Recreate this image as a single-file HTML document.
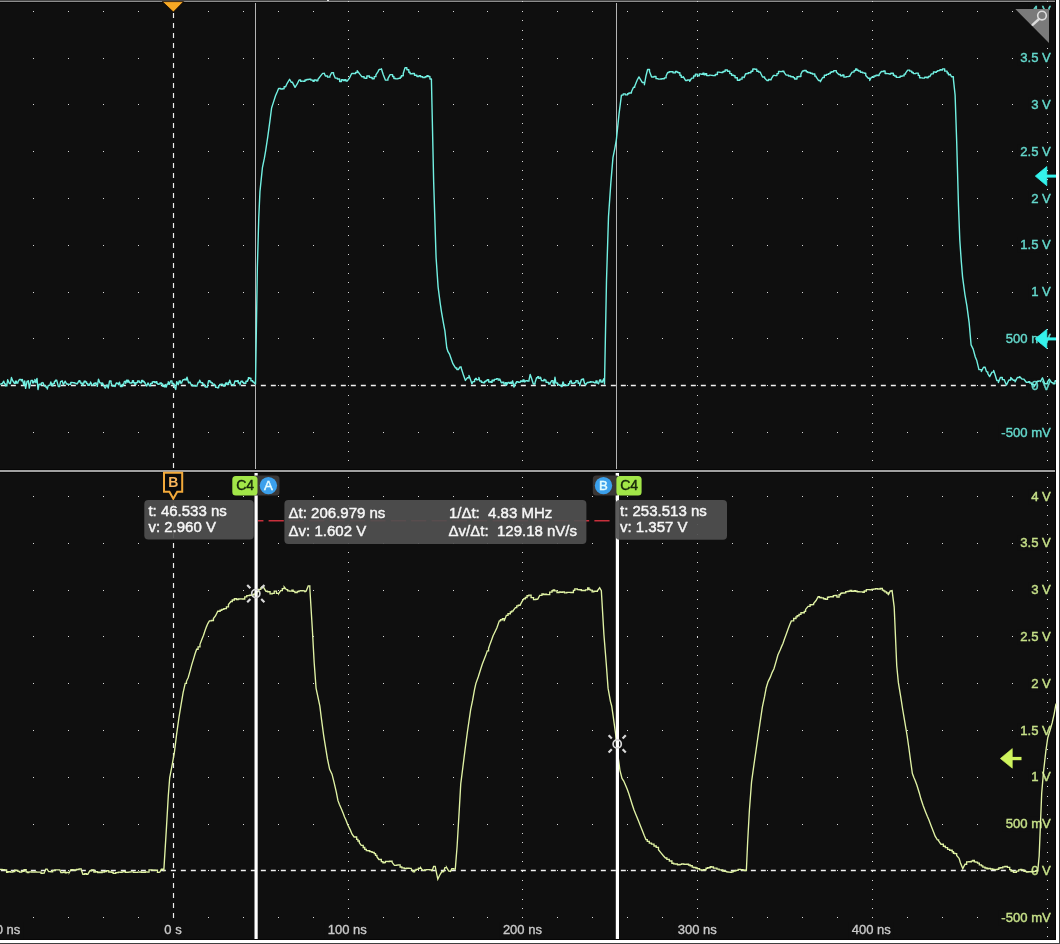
<!DOCTYPE html>
<html><head><meta charset="utf-8"><title>Scope</title>
<style>
html,body{margin:0;padding:0;background:#0f0f0f;}
body{width:1060px;height:944px;overflow:hidden;position:relative;font-family:"Liberation Sans",sans-serif;}
</style></head><body>
<svg width="1060" height="944" viewBox="0 0 1060 944" style="position:absolute;left:0;top:0;will-change:transform">
<rect x="0" y="0" width="1060" height="1" fill="#464646"/>
<rect x="0" y="1" width="1056" height="1" fill="#8c8c8c"/>
<rect x="0" y="2" width="1056" height="1" fill="#060606"/>
<rect x="327" y="0" width="2" height="1" fill="#e0e0e0"/>
<rect x="0" y="469" width="1056" height="1" fill="#060606"/>
<rect x="0" y="470" width="1056" height="2" fill="#a0a0a0"/>
<rect x="0" y="472" width="1056" height="1" fill="#060606"/>
<rect x="1055" y="0" width="1" height="944" fill="#060606"/>
<rect x="1056" y="0" width="3" height="943" fill="#ffffff"/>
<rect x="1059" y="0" width="1" height="944" fill="#404040"/>
<rect x="0" y="939" width="1056" height="1" fill="#060606"/>
<rect x="0" y="940" width="1059" height="3" fill="#ffffff"/>
<rect x="0" y="943" width="1060" height="1" fill="#404040"/>
<path d="M33 11h1v1h-1zM68 11h1v1h-1zM103 11h1v1h-1zM138 11h1v1h-1zM208 11h1v1h-1zM243 11h1v1h-1zM278 11h1v1h-1zM313 11h1v1h-1zM348 11h1v1h-1zM383 11h1v1h-1zM418 11h1v1h-1zM453 11h1v1h-1zM487 11h1v1h-1zM522 11h1v1h-1zM557 11h1v1h-1zM592 11h1v1h-1zM627 11h1v1h-1zM662 11h1v1h-1zM697 11h1v1h-1zM732 11h1v1h-1zM767 11h1v1h-1zM802 11h1v1h-1zM837 11h1v1h-1zM872 11h1v1h-1zM907 11h1v1h-1zM942 11h1v1h-1zM977 11h1v1h-1zM1012 11h1v1h-1zM1047 11h1v1h-1zM33 58h1v1h-1zM68 58h1v1h-1zM103 58h1v1h-1zM138 58h1v1h-1zM208 58h1v1h-1zM243 58h1v1h-1zM278 58h1v1h-1zM313 58h1v1h-1zM348 58h1v1h-1zM383 58h1v1h-1zM418 58h1v1h-1zM453 58h1v1h-1zM487 58h1v1h-1zM522 58h1v1h-1zM557 58h1v1h-1zM592 58h1v1h-1zM627 58h1v1h-1zM662 58h1v1h-1zM697 58h1v1h-1zM732 58h1v1h-1zM767 58h1v1h-1zM802 58h1v1h-1zM837 58h1v1h-1zM872 58h1v1h-1zM907 58h1v1h-1zM942 58h1v1h-1zM977 58h1v1h-1zM1012 58h1v1h-1zM1047 58h1v1h-1zM33 104h1v1h-1zM68 104h1v1h-1zM103 104h1v1h-1zM138 104h1v1h-1zM208 104h1v1h-1zM243 104h1v1h-1zM278 104h1v1h-1zM313 104h1v1h-1zM348 104h1v1h-1zM383 104h1v1h-1zM418 104h1v1h-1zM453 104h1v1h-1zM487 104h1v1h-1zM522 104h1v1h-1zM557 104h1v1h-1zM592 104h1v1h-1zM627 104h1v1h-1zM662 104h1v1h-1zM697 104h1v1h-1zM732 104h1v1h-1zM767 104h1v1h-1zM802 104h1v1h-1zM837 104h1v1h-1zM872 104h1v1h-1zM907 104h1v1h-1zM942 104h1v1h-1zM977 104h1v1h-1zM1012 104h1v1h-1zM1047 104h1v1h-1zM33 151h1v1h-1zM68 151h1v1h-1zM103 151h1v1h-1zM138 151h1v1h-1zM208 151h1v1h-1zM243 151h1v1h-1zM278 151h1v1h-1zM313 151h1v1h-1zM348 151h1v1h-1zM383 151h1v1h-1zM418 151h1v1h-1zM453 151h1v1h-1zM487 151h1v1h-1zM522 151h1v1h-1zM557 151h1v1h-1zM592 151h1v1h-1zM627 151h1v1h-1zM662 151h1v1h-1zM697 151h1v1h-1zM732 151h1v1h-1zM767 151h1v1h-1zM802 151h1v1h-1zM837 151h1v1h-1zM872 151h1v1h-1zM907 151h1v1h-1zM942 151h1v1h-1zM977 151h1v1h-1zM1012 151h1v1h-1zM1047 151h1v1h-1zM33 198h1v1h-1zM68 198h1v1h-1zM103 198h1v1h-1zM138 198h1v1h-1zM208 198h1v1h-1zM243 198h1v1h-1zM278 198h1v1h-1zM313 198h1v1h-1zM348 198h1v1h-1zM383 198h1v1h-1zM418 198h1v1h-1zM453 198h1v1h-1zM487 198h1v1h-1zM522 198h1v1h-1zM557 198h1v1h-1zM592 198h1v1h-1zM627 198h1v1h-1zM662 198h1v1h-1zM697 198h1v1h-1zM732 198h1v1h-1zM767 198h1v1h-1zM802 198h1v1h-1zM837 198h1v1h-1zM872 198h1v1h-1zM907 198h1v1h-1zM942 198h1v1h-1zM977 198h1v1h-1zM1012 198h1v1h-1zM1047 198h1v1h-1zM33 245h1v1h-1zM68 245h1v1h-1zM103 245h1v1h-1zM138 245h1v1h-1zM208 245h1v1h-1zM243 245h1v1h-1zM278 245h1v1h-1zM313 245h1v1h-1zM348 245h1v1h-1zM383 245h1v1h-1zM418 245h1v1h-1zM453 245h1v1h-1zM487 245h1v1h-1zM522 245h1v1h-1zM557 245h1v1h-1zM592 245h1v1h-1zM627 245h1v1h-1zM662 245h1v1h-1zM697 245h1v1h-1zM732 245h1v1h-1zM767 245h1v1h-1zM802 245h1v1h-1zM837 245h1v1h-1zM872 245h1v1h-1zM907 245h1v1h-1zM942 245h1v1h-1zM977 245h1v1h-1zM1012 245h1v1h-1zM1047 245h1v1h-1zM33 292h1v1h-1zM68 292h1v1h-1zM103 292h1v1h-1zM138 292h1v1h-1zM208 292h1v1h-1zM243 292h1v1h-1zM278 292h1v1h-1zM313 292h1v1h-1zM348 292h1v1h-1zM383 292h1v1h-1zM418 292h1v1h-1zM453 292h1v1h-1zM487 292h1v1h-1zM522 292h1v1h-1zM557 292h1v1h-1zM592 292h1v1h-1zM627 292h1v1h-1zM662 292h1v1h-1zM697 292h1v1h-1zM732 292h1v1h-1zM767 292h1v1h-1zM802 292h1v1h-1zM837 292h1v1h-1zM872 292h1v1h-1zM907 292h1v1h-1zM942 292h1v1h-1zM977 292h1v1h-1zM1012 292h1v1h-1zM1047 292h1v1h-1zM33 338h1v1h-1zM68 338h1v1h-1zM103 338h1v1h-1zM138 338h1v1h-1zM208 338h1v1h-1zM243 338h1v1h-1zM278 338h1v1h-1zM313 338h1v1h-1zM348 338h1v1h-1zM383 338h1v1h-1zM418 338h1v1h-1zM453 338h1v1h-1zM487 338h1v1h-1zM522 338h1v1h-1zM557 338h1v1h-1zM592 338h1v1h-1zM627 338h1v1h-1zM662 338h1v1h-1zM697 338h1v1h-1zM732 338h1v1h-1zM767 338h1v1h-1zM802 338h1v1h-1zM837 338h1v1h-1zM872 338h1v1h-1zM907 338h1v1h-1zM942 338h1v1h-1zM977 338h1v1h-1zM1012 338h1v1h-1zM1047 338h1v1h-1zM33 385h1v1h-1zM68 385h1v1h-1zM103 385h1v1h-1zM138 385h1v1h-1zM208 385h1v1h-1zM243 385h1v1h-1zM278 385h1v1h-1zM313 385h1v1h-1zM348 385h1v1h-1zM383 385h1v1h-1zM418 385h1v1h-1zM453 385h1v1h-1zM487 385h1v1h-1zM522 385h1v1h-1zM557 385h1v1h-1zM592 385h1v1h-1zM627 385h1v1h-1zM662 385h1v1h-1zM697 385h1v1h-1zM732 385h1v1h-1zM767 385h1v1h-1zM802 385h1v1h-1zM837 385h1v1h-1zM872 385h1v1h-1zM907 385h1v1h-1zM942 385h1v1h-1zM977 385h1v1h-1zM1012 385h1v1h-1zM1047 385h1v1h-1zM33 432h1v1h-1zM68 432h1v1h-1zM103 432h1v1h-1zM138 432h1v1h-1zM208 432h1v1h-1zM243 432h1v1h-1zM278 432h1v1h-1zM313 432h1v1h-1zM348 432h1v1h-1zM383 432h1v1h-1zM418 432h1v1h-1zM453 432h1v1h-1zM487 432h1v1h-1zM522 432h1v1h-1zM557 432h1v1h-1zM592 432h1v1h-1zM627 432h1v1h-1zM662 432h1v1h-1zM697 432h1v1h-1zM732 432h1v1h-1zM767 432h1v1h-1zM802 432h1v1h-1zM837 432h1v1h-1zM872 432h1v1h-1zM907 432h1v1h-1zM942 432h1v1h-1zM977 432h1v1h-1zM1012 432h1v1h-1zM1047 432h1v1h-1zM33 496h1v1h-1zM68 496h1v1h-1zM103 496h1v1h-1zM138 496h1v1h-1zM208 496h1v1h-1zM243 496h1v1h-1zM278 496h1v1h-1zM313 496h1v1h-1zM348 496h1v1h-1zM383 496h1v1h-1zM418 496h1v1h-1zM453 496h1v1h-1zM487 496h1v1h-1zM522 496h1v1h-1zM557 496h1v1h-1zM592 496h1v1h-1zM627 496h1v1h-1zM662 496h1v1h-1zM697 496h1v1h-1zM732 496h1v1h-1zM767 496h1v1h-1zM802 496h1v1h-1zM837 496h1v1h-1zM872 496h1v1h-1zM907 496h1v1h-1zM942 496h1v1h-1zM977 496h1v1h-1zM1012 496h1v1h-1zM1047 496h1v1h-1zM33 543h1v1h-1zM68 543h1v1h-1zM103 543h1v1h-1zM138 543h1v1h-1zM208 543h1v1h-1zM243 543h1v1h-1zM278 543h1v1h-1zM313 543h1v1h-1zM348 543h1v1h-1zM383 543h1v1h-1zM418 543h1v1h-1zM453 543h1v1h-1zM487 543h1v1h-1zM522 543h1v1h-1zM557 543h1v1h-1zM592 543h1v1h-1zM627 543h1v1h-1zM662 543h1v1h-1zM697 543h1v1h-1zM732 543h1v1h-1zM767 543h1v1h-1zM802 543h1v1h-1zM837 543h1v1h-1zM872 543h1v1h-1zM907 543h1v1h-1zM942 543h1v1h-1zM977 543h1v1h-1zM1012 543h1v1h-1zM1047 543h1v1h-1zM33 590h1v1h-1zM68 590h1v1h-1zM103 590h1v1h-1zM138 590h1v1h-1zM208 590h1v1h-1zM243 590h1v1h-1zM278 590h1v1h-1zM313 590h1v1h-1zM348 590h1v1h-1zM383 590h1v1h-1zM418 590h1v1h-1zM453 590h1v1h-1zM487 590h1v1h-1zM522 590h1v1h-1zM557 590h1v1h-1zM592 590h1v1h-1zM627 590h1v1h-1zM662 590h1v1h-1zM697 590h1v1h-1zM732 590h1v1h-1zM767 590h1v1h-1zM802 590h1v1h-1zM837 590h1v1h-1zM872 590h1v1h-1zM907 590h1v1h-1zM942 590h1v1h-1zM977 590h1v1h-1zM1012 590h1v1h-1zM1047 590h1v1h-1zM33 636h1v1h-1zM68 636h1v1h-1zM103 636h1v1h-1zM138 636h1v1h-1zM208 636h1v1h-1zM243 636h1v1h-1zM278 636h1v1h-1zM313 636h1v1h-1zM348 636h1v1h-1zM383 636h1v1h-1zM418 636h1v1h-1zM453 636h1v1h-1zM487 636h1v1h-1zM522 636h1v1h-1zM557 636h1v1h-1zM592 636h1v1h-1zM627 636h1v1h-1zM662 636h1v1h-1zM697 636h1v1h-1zM732 636h1v1h-1zM767 636h1v1h-1zM802 636h1v1h-1zM837 636h1v1h-1zM872 636h1v1h-1zM907 636h1v1h-1zM942 636h1v1h-1zM977 636h1v1h-1zM1012 636h1v1h-1zM1047 636h1v1h-1zM33 683h1v1h-1zM68 683h1v1h-1zM103 683h1v1h-1zM138 683h1v1h-1zM208 683h1v1h-1zM243 683h1v1h-1zM278 683h1v1h-1zM313 683h1v1h-1zM348 683h1v1h-1zM383 683h1v1h-1zM418 683h1v1h-1zM453 683h1v1h-1zM487 683h1v1h-1zM522 683h1v1h-1zM557 683h1v1h-1zM592 683h1v1h-1zM627 683h1v1h-1zM662 683h1v1h-1zM697 683h1v1h-1zM732 683h1v1h-1zM767 683h1v1h-1zM802 683h1v1h-1zM837 683h1v1h-1zM872 683h1v1h-1zM907 683h1v1h-1zM942 683h1v1h-1zM977 683h1v1h-1zM1012 683h1v1h-1zM1047 683h1v1h-1zM33 730h1v1h-1zM68 730h1v1h-1zM103 730h1v1h-1zM138 730h1v1h-1zM208 730h1v1h-1zM243 730h1v1h-1zM278 730h1v1h-1zM313 730h1v1h-1zM348 730h1v1h-1zM383 730h1v1h-1zM418 730h1v1h-1zM453 730h1v1h-1zM487 730h1v1h-1zM522 730h1v1h-1zM557 730h1v1h-1zM592 730h1v1h-1zM627 730h1v1h-1zM662 730h1v1h-1zM697 730h1v1h-1zM732 730h1v1h-1zM767 730h1v1h-1zM802 730h1v1h-1zM837 730h1v1h-1zM872 730h1v1h-1zM907 730h1v1h-1zM942 730h1v1h-1zM977 730h1v1h-1zM1012 730h1v1h-1zM1047 730h1v1h-1zM33 777h1v1h-1zM68 777h1v1h-1zM103 777h1v1h-1zM138 777h1v1h-1zM208 777h1v1h-1zM243 777h1v1h-1zM278 777h1v1h-1zM313 777h1v1h-1zM348 777h1v1h-1zM383 777h1v1h-1zM418 777h1v1h-1zM453 777h1v1h-1zM487 777h1v1h-1zM522 777h1v1h-1zM557 777h1v1h-1zM592 777h1v1h-1zM627 777h1v1h-1zM662 777h1v1h-1zM697 777h1v1h-1zM732 777h1v1h-1zM767 777h1v1h-1zM802 777h1v1h-1zM837 777h1v1h-1zM872 777h1v1h-1zM907 777h1v1h-1zM942 777h1v1h-1zM977 777h1v1h-1zM1012 777h1v1h-1zM1047 777h1v1h-1zM33 824h1v1h-1zM68 824h1v1h-1zM103 824h1v1h-1zM138 824h1v1h-1zM208 824h1v1h-1zM243 824h1v1h-1zM278 824h1v1h-1zM313 824h1v1h-1zM348 824h1v1h-1zM383 824h1v1h-1zM418 824h1v1h-1zM453 824h1v1h-1zM487 824h1v1h-1zM522 824h1v1h-1zM557 824h1v1h-1zM592 824h1v1h-1zM627 824h1v1h-1zM662 824h1v1h-1zM697 824h1v1h-1zM732 824h1v1h-1zM767 824h1v1h-1zM802 824h1v1h-1zM837 824h1v1h-1zM872 824h1v1h-1zM907 824h1v1h-1zM942 824h1v1h-1zM977 824h1v1h-1zM1012 824h1v1h-1zM1047 824h1v1h-1zM33 870h1v1h-1zM68 870h1v1h-1zM103 870h1v1h-1zM138 870h1v1h-1zM208 870h1v1h-1zM243 870h1v1h-1zM278 870h1v1h-1zM313 870h1v1h-1zM348 870h1v1h-1zM383 870h1v1h-1zM418 870h1v1h-1zM453 870h1v1h-1zM487 870h1v1h-1zM522 870h1v1h-1zM557 870h1v1h-1zM592 870h1v1h-1zM627 870h1v1h-1zM662 870h1v1h-1zM697 870h1v1h-1zM732 870h1v1h-1zM767 870h1v1h-1zM802 870h1v1h-1zM837 870h1v1h-1zM872 870h1v1h-1zM907 870h1v1h-1zM942 870h1v1h-1zM977 870h1v1h-1zM1012 870h1v1h-1zM1047 870h1v1h-1zM33 917h1v1h-1zM68 917h1v1h-1zM103 917h1v1h-1zM138 917h1v1h-1zM208 917h1v1h-1zM243 917h1v1h-1zM278 917h1v1h-1zM313 917h1v1h-1zM348 917h1v1h-1zM383 917h1v1h-1zM418 917h1v1h-1zM453 917h1v1h-1zM487 917h1v1h-1zM522 917h1v1h-1zM557 917h1v1h-1zM592 917h1v1h-1zM627 917h1v1h-1zM662 917h1v1h-1zM697 917h1v1h-1zM732 917h1v1h-1zM767 917h1v1h-1zM802 917h1v1h-1zM837 917h1v1h-1zM872 917h1v1h-1zM907 917h1v1h-1zM942 917h1v1h-1zM977 917h1v1h-1zM1012 917h1v1h-1zM1047 917h1v1h-1zM348 1h1v1h-1zM348 11h1v1h-1zM348 20h1v1h-1zM348 30h1v1h-1zM348 39h1v1h-1zM348 48h1v1h-1zM348 58h1v1h-1zM348 67h1v1h-1zM348 76h1v1h-1zM348 86h1v1h-1zM348 95h1v1h-1zM348 104h1v1h-1zM348 114h1v1h-1zM348 123h1v1h-1zM348 132h1v1h-1zM348 142h1v1h-1zM348 151h1v1h-1zM348 161h1v1h-1zM348 170h1v1h-1zM348 179h1v1h-1zM348 189h1v1h-1zM348 198h1v1h-1zM348 207h1v1h-1zM348 217h1v1h-1zM348 226h1v1h-1zM348 235h1v1h-1zM348 245h1v1h-1zM348 254h1v1h-1zM348 264h1v1h-1zM348 273h1v1h-1zM348 282h1v1h-1zM348 292h1v1h-1zM348 301h1v1h-1zM348 310h1v1h-1zM348 320h1v1h-1zM348 329h1v1h-1zM348 338h1v1h-1zM348 348h1v1h-1zM348 357h1v1h-1zM348 366h1v1h-1zM348 376h1v1h-1zM348 385h1v1h-1zM348 395h1v1h-1zM348 404h1v1h-1zM348 413h1v1h-1zM348 423h1v1h-1zM348 432h1v1h-1zM348 441h1v1h-1zM348 451h1v1h-1zM348 460h1v1h-1zM348 477h1v1h-1zM348 487h1v1h-1zM348 496h1v1h-1zM348 505h1v1h-1zM348 515h1v1h-1zM348 524h1v1h-1zM348 534h1v1h-1zM348 543h1v1h-1zM348 552h1v1h-1zM348 562h1v1h-1zM348 571h1v1h-1zM348 580h1v1h-1zM348 590h1v1h-1zM348 599h1v1h-1zM348 608h1v1h-1zM348 618h1v1h-1zM348 627h1v1h-1zM348 637h1v1h-1zM348 646h1v1h-1zM348 655h1v1h-1zM348 665h1v1h-1zM348 674h1v1h-1zM348 683h1v1h-1zM348 693h1v1h-1zM348 702h1v1h-1zM348 711h1v1h-1zM348 721h1v1h-1zM348 730h1v1h-1zM348 739h1v1h-1zM348 749h1v1h-1zM348 758h1v1h-1zM348 768h1v1h-1zM348 777h1v1h-1zM348 786h1v1h-1zM348 796h1v1h-1zM348 805h1v1h-1zM348 814h1v1h-1zM348 824h1v1h-1zM348 833h1v1h-1zM348 842h1v1h-1zM348 852h1v1h-1zM348 861h1v1h-1zM348 871h1v1h-1zM348 880h1v1h-1zM348 889h1v1h-1zM348 899h1v1h-1zM348 908h1v1h-1zM348 917h1v1h-1zM348 927h1v1h-1zM348 936h1v1h-1zM522 1h1v1h-1zM522 11h1v1h-1zM522 20h1v1h-1zM522 30h1v1h-1zM522 39h1v1h-1zM522 48h1v1h-1zM522 58h1v1h-1zM522 67h1v1h-1zM522 76h1v1h-1zM522 86h1v1h-1zM522 95h1v1h-1zM522 104h1v1h-1zM522 114h1v1h-1zM522 123h1v1h-1zM522 132h1v1h-1zM522 142h1v1h-1zM522 151h1v1h-1zM522 161h1v1h-1zM522 170h1v1h-1zM522 179h1v1h-1zM522 189h1v1h-1zM522 198h1v1h-1zM522 207h1v1h-1zM522 217h1v1h-1zM522 226h1v1h-1zM522 235h1v1h-1zM522 245h1v1h-1zM522 254h1v1h-1zM522 264h1v1h-1zM522 273h1v1h-1zM522 282h1v1h-1zM522 292h1v1h-1zM522 301h1v1h-1zM522 310h1v1h-1zM522 320h1v1h-1zM522 329h1v1h-1zM522 338h1v1h-1zM522 348h1v1h-1zM522 357h1v1h-1zM522 366h1v1h-1zM522 376h1v1h-1zM522 385h1v1h-1zM522 395h1v1h-1zM522 404h1v1h-1zM522 413h1v1h-1zM522 423h1v1h-1zM522 432h1v1h-1zM522 441h1v1h-1zM522 451h1v1h-1zM522 460h1v1h-1zM522 477h1v1h-1zM522 487h1v1h-1zM522 496h1v1h-1zM522 505h1v1h-1zM522 515h1v1h-1zM522 524h1v1h-1zM522 534h1v1h-1zM522 543h1v1h-1zM522 552h1v1h-1zM522 562h1v1h-1zM522 571h1v1h-1zM522 580h1v1h-1zM522 590h1v1h-1zM522 599h1v1h-1zM522 608h1v1h-1zM522 618h1v1h-1zM522 627h1v1h-1zM522 637h1v1h-1zM522 646h1v1h-1zM522 655h1v1h-1zM522 665h1v1h-1zM522 674h1v1h-1zM522 683h1v1h-1zM522 693h1v1h-1zM522 702h1v1h-1zM522 711h1v1h-1zM522 721h1v1h-1zM522 730h1v1h-1zM522 739h1v1h-1zM522 749h1v1h-1zM522 758h1v1h-1zM522 768h1v1h-1zM522 777h1v1h-1zM522 786h1v1h-1zM522 796h1v1h-1zM522 805h1v1h-1zM522 814h1v1h-1zM522 824h1v1h-1zM522 833h1v1h-1zM522 842h1v1h-1zM522 852h1v1h-1zM522 861h1v1h-1zM522 871h1v1h-1zM522 880h1v1h-1zM522 889h1v1h-1zM522 899h1v1h-1zM522 908h1v1h-1zM522 917h1v1h-1zM522 927h1v1h-1zM522 936h1v1h-1zM697 1h1v1h-1zM697 11h1v1h-1zM697 20h1v1h-1zM697 30h1v1h-1zM697 39h1v1h-1zM697 48h1v1h-1zM697 58h1v1h-1zM697 67h1v1h-1zM697 76h1v1h-1zM697 86h1v1h-1zM697 95h1v1h-1zM697 104h1v1h-1zM697 114h1v1h-1zM697 123h1v1h-1zM697 132h1v1h-1zM697 142h1v1h-1zM697 151h1v1h-1zM697 161h1v1h-1zM697 170h1v1h-1zM697 179h1v1h-1zM697 189h1v1h-1zM697 198h1v1h-1zM697 207h1v1h-1zM697 217h1v1h-1zM697 226h1v1h-1zM697 235h1v1h-1zM697 245h1v1h-1zM697 254h1v1h-1zM697 264h1v1h-1zM697 273h1v1h-1zM697 282h1v1h-1zM697 292h1v1h-1zM697 301h1v1h-1zM697 310h1v1h-1zM697 320h1v1h-1zM697 329h1v1h-1zM697 338h1v1h-1zM697 348h1v1h-1zM697 357h1v1h-1zM697 366h1v1h-1zM697 376h1v1h-1zM697 385h1v1h-1zM697 395h1v1h-1zM697 404h1v1h-1zM697 413h1v1h-1zM697 423h1v1h-1zM697 432h1v1h-1zM697 441h1v1h-1zM697 451h1v1h-1zM697 460h1v1h-1zM697 477h1v1h-1zM697 487h1v1h-1zM697 496h1v1h-1zM697 505h1v1h-1zM697 515h1v1h-1zM697 524h1v1h-1zM697 534h1v1h-1zM697 543h1v1h-1zM697 552h1v1h-1zM697 562h1v1h-1zM697 571h1v1h-1zM697 580h1v1h-1zM697 590h1v1h-1zM697 599h1v1h-1zM697 608h1v1h-1zM697 618h1v1h-1zM697 627h1v1h-1zM697 637h1v1h-1zM697 646h1v1h-1zM697 655h1v1h-1zM697 665h1v1h-1zM697 674h1v1h-1zM697 683h1v1h-1zM697 693h1v1h-1zM697 702h1v1h-1zM697 711h1v1h-1zM697 721h1v1h-1zM697 730h1v1h-1zM697 739h1v1h-1zM697 749h1v1h-1zM697 758h1v1h-1zM697 768h1v1h-1zM697 777h1v1h-1zM697 786h1v1h-1zM697 796h1v1h-1zM697 805h1v1h-1zM697 814h1v1h-1zM697 824h1v1h-1zM697 833h1v1h-1zM697 842h1v1h-1zM697 852h1v1h-1zM697 861h1v1h-1zM697 871h1v1h-1zM697 880h1v1h-1zM697 889h1v1h-1zM697 899h1v1h-1zM697 908h1v1h-1zM697 917h1v1h-1zM697 927h1v1h-1zM697 936h1v1h-1zM872 1h1v1h-1zM872 11h1v1h-1zM872 20h1v1h-1zM872 30h1v1h-1zM872 39h1v1h-1zM872 48h1v1h-1zM872 58h1v1h-1zM872 67h1v1h-1zM872 76h1v1h-1zM872 86h1v1h-1zM872 95h1v1h-1zM872 104h1v1h-1zM872 114h1v1h-1zM872 123h1v1h-1zM872 132h1v1h-1zM872 142h1v1h-1zM872 151h1v1h-1zM872 161h1v1h-1zM872 170h1v1h-1zM872 179h1v1h-1zM872 189h1v1h-1zM872 198h1v1h-1zM872 207h1v1h-1zM872 217h1v1h-1zM872 226h1v1h-1zM872 235h1v1h-1zM872 245h1v1h-1zM872 254h1v1h-1zM872 264h1v1h-1zM872 273h1v1h-1zM872 282h1v1h-1zM872 292h1v1h-1zM872 301h1v1h-1zM872 310h1v1h-1zM872 320h1v1h-1zM872 329h1v1h-1zM872 338h1v1h-1zM872 348h1v1h-1zM872 357h1v1h-1zM872 366h1v1h-1zM872 376h1v1h-1zM872 385h1v1h-1zM872 395h1v1h-1zM872 404h1v1h-1zM872 413h1v1h-1zM872 423h1v1h-1zM872 432h1v1h-1zM872 441h1v1h-1zM872 451h1v1h-1zM872 460h1v1h-1zM872 477h1v1h-1zM872 487h1v1h-1zM872 496h1v1h-1zM872 505h1v1h-1zM872 515h1v1h-1zM872 524h1v1h-1zM872 534h1v1h-1zM872 543h1v1h-1zM872 552h1v1h-1zM872 562h1v1h-1zM872 571h1v1h-1zM872 580h1v1h-1zM872 590h1v1h-1zM872 599h1v1h-1zM872 608h1v1h-1zM872 618h1v1h-1zM872 627h1v1h-1zM872 637h1v1h-1zM872 646h1v1h-1zM872 655h1v1h-1zM872 665h1v1h-1zM872 674h1v1h-1zM872 683h1v1h-1zM872 693h1v1h-1zM872 702h1v1h-1zM872 711h1v1h-1zM872 721h1v1h-1zM872 730h1v1h-1zM872 739h1v1h-1zM872 749h1v1h-1zM872 758h1v1h-1zM872 768h1v1h-1zM872 777h1v1h-1zM872 786h1v1h-1zM872 796h1v1h-1zM872 805h1v1h-1zM872 814h1v1h-1zM872 824h1v1h-1zM872 833h1v1h-1zM872 842h1v1h-1zM872 852h1v1h-1zM872 861h1v1h-1zM872 871h1v1h-1zM872 880h1v1h-1zM872 889h1v1h-1zM872 899h1v1h-1zM872 908h1v1h-1zM872 917h1v1h-1zM872 927h1v1h-1zM872 936h1v1h-1zM1047 1h1v1h-1zM1047 11h1v1h-1zM1047 20h1v1h-1zM1047 30h1v1h-1zM1047 39h1v1h-1zM1047 48h1v1h-1zM1047 58h1v1h-1zM1047 67h1v1h-1zM1047 76h1v1h-1zM1047 86h1v1h-1zM1047 95h1v1h-1zM1047 104h1v1h-1zM1047 114h1v1h-1zM1047 123h1v1h-1zM1047 132h1v1h-1zM1047 142h1v1h-1zM1047 151h1v1h-1zM1047 161h1v1h-1zM1047 170h1v1h-1zM1047 179h1v1h-1zM1047 189h1v1h-1zM1047 198h1v1h-1zM1047 207h1v1h-1zM1047 217h1v1h-1zM1047 226h1v1h-1zM1047 235h1v1h-1zM1047 245h1v1h-1zM1047 254h1v1h-1zM1047 264h1v1h-1zM1047 273h1v1h-1zM1047 282h1v1h-1zM1047 292h1v1h-1zM1047 301h1v1h-1zM1047 310h1v1h-1zM1047 320h1v1h-1zM1047 329h1v1h-1zM1047 338h1v1h-1zM1047 348h1v1h-1zM1047 357h1v1h-1zM1047 366h1v1h-1zM1047 376h1v1h-1zM1047 385h1v1h-1zM1047 395h1v1h-1zM1047 404h1v1h-1zM1047 413h1v1h-1zM1047 423h1v1h-1zM1047 432h1v1h-1zM1047 441h1v1h-1zM1047 451h1v1h-1zM1047 460h1v1h-1zM1047 477h1v1h-1zM1047 487h1v1h-1zM1047 496h1v1h-1zM1047 505h1v1h-1zM1047 515h1v1h-1zM1047 524h1v1h-1zM1047 534h1v1h-1zM1047 543h1v1h-1zM1047 552h1v1h-1zM1047 562h1v1h-1zM1047 571h1v1h-1zM1047 580h1v1h-1zM1047 590h1v1h-1zM1047 599h1v1h-1zM1047 608h1v1h-1zM1047 618h1v1h-1zM1047 627h1v1h-1zM1047 637h1v1h-1zM1047 646h1v1h-1zM1047 655h1v1h-1zM1047 665h1v1h-1zM1047 674h1v1h-1zM1047 683h1v1h-1zM1047 693h1v1h-1zM1047 702h1v1h-1zM1047 711h1v1h-1zM1047 721h1v1h-1zM1047 730h1v1h-1zM1047 739h1v1h-1zM1047 749h1v1h-1zM1047 758h1v1h-1zM1047 768h1v1h-1zM1047 777h1v1h-1zM1047 786h1v1h-1zM1047 796h1v1h-1zM1047 805h1v1h-1zM1047 814h1v1h-1zM1047 824h1v1h-1zM1047 833h1v1h-1zM1047 842h1v1h-1zM1047 852h1v1h-1zM1047 861h1v1h-1zM1047 871h1v1h-1zM1047 880h1v1h-1zM1047 889h1v1h-1zM1047 899h1v1h-1zM1047 908h1v1h-1zM1047 917h1v1h-1zM1047 927h1v1h-1zM1047 936h1v1h-1z" fill="#d8d8d8"/>
<line x1="0" y1="385.5" x2="1055" y2="385.5" stroke="#f0f0f0" stroke-width="1.4" stroke-dasharray="5 5" stroke-dashoffset="-0.85"/>
<line x1="0" y1="870.5" x2="1055" y2="870.5" stroke="#f0f0f0" stroke-width="1.4" stroke-dasharray="5 5" stroke-dashoffset="-0.85"/>
<line x1="173.5" y1="12.9" x2="173.5" y2="923" stroke="#f0f0f0" stroke-width="1.2" stroke-dasharray="5 5"/>
<rect x="255" y="3" width="1" height="466" fill="#b4b4b4"/>
<rect x="616" y="3" width="1" height="466" fill="#b4b4b4"/>
<rect x="1028.14" y="3.8" width="26.86" height="15" fill="#0f0f0f"/><text x="1050.8" y="15.3" fill="#64d8cc" stroke="#64d8cc" stroke-width="0.4" font-size="13.1" text-anchor="end" font-family="Liberation Sans, sans-serif">4 V</text><rect x="1017.21" y="50.6" width="37.79" height="15" fill="#0f0f0f"/><text x="1050.8" y="62.1" fill="#64d8cc" stroke="#64d8cc" stroke-width="0.4" font-size="13.1" text-anchor="end" font-family="Liberation Sans, sans-serif">3.5 V</text><rect x="1028.14" y="97.4" width="26.86" height="15" fill="#0f0f0f"/><text x="1050.8" y="108.9" fill="#64d8cc" stroke="#64d8cc" stroke-width="0.4" font-size="13.1" text-anchor="end" font-family="Liberation Sans, sans-serif">3 V</text><rect x="1017.21" y="144.2" width="37.79" height="15" fill="#0f0f0f"/><text x="1050.8" y="155.7" fill="#64d8cc" stroke="#64d8cc" stroke-width="0.4" font-size="13.1" text-anchor="end" font-family="Liberation Sans, sans-serif">2.5 V</text><rect x="1028.14" y="191" width="26.86" height="15" fill="#0f0f0f"/><text x="1050.8" y="202.5" fill="#64d8cc" stroke="#64d8cc" stroke-width="0.4" font-size="13.1" text-anchor="end" font-family="Liberation Sans, sans-serif">2 V</text><rect x="1017.21" y="237.8" width="37.79" height="15" fill="#0f0f0f"/><text x="1050.8" y="249.3" fill="#64d8cc" stroke="#64d8cc" stroke-width="0.4" font-size="13.1" text-anchor="end" font-family="Liberation Sans, sans-serif">1.5 V</text><rect x="1028.14" y="284.6" width="26.86" height="15" fill="#0f0f0f"/><text x="1050.8" y="296.1" fill="#64d8cc" stroke="#64d8cc" stroke-width="0.4" font-size="13.1" text-anchor="end" font-family="Liberation Sans, sans-serif">1 V</text><rect x="1002.65" y="331.4" width="52.35" height="15" fill="#0f0f0f"/><text x="1050.8" y="342.9" fill="#64d8cc" stroke="#64d8cc" stroke-width="0.4" font-size="13.1" text-anchor="end" font-family="Liberation Sans, sans-serif">500 mV</text><rect x="1028.14" y="378.2" width="26.86" height="15" fill="#0f0f0f"/><text x="1050.8" y="389.7" fill="#64d8cc" stroke="#64d8cc" stroke-width="0.4" font-size="13.1" text-anchor="end" font-family="Liberation Sans, sans-serif">0 V</text><rect x="998.29" y="425" width="56.71" height="15" fill="#0f0f0f"/><text x="1050.8" y="436.5" fill="#64d8cc" stroke="#64d8cc" stroke-width="0.4" font-size="13.1" text-anchor="end" font-family="Liberation Sans, sans-serif">-500 mV</text><rect x="1028.14" y="489.1" width="26.86" height="15" fill="#0f0f0f"/><text x="1050.8" y="500.6" fill="#c6e088" stroke="#c6e088" stroke-width="0.4" font-size="13.1" text-anchor="end" font-family="Liberation Sans, sans-serif">4 V</text><rect x="1017.21" y="535.9" width="37.79" height="15" fill="#0f0f0f"/><text x="1050.8" y="547.4" fill="#c6e088" stroke="#c6e088" stroke-width="0.4" font-size="13.1" text-anchor="end" font-family="Liberation Sans, sans-serif">3.5 V</text><rect x="1028.14" y="582.7" width="26.86" height="15" fill="#0f0f0f"/><text x="1050.8" y="594.2" fill="#c6e088" stroke="#c6e088" stroke-width="0.4" font-size="13.1" text-anchor="end" font-family="Liberation Sans, sans-serif">3 V</text><rect x="1017.21" y="629.5" width="37.79" height="15" fill="#0f0f0f"/><text x="1050.8" y="641" fill="#c6e088" stroke="#c6e088" stroke-width="0.4" font-size="13.1" text-anchor="end" font-family="Liberation Sans, sans-serif">2.5 V</text><rect x="1028.14" y="676.3" width="26.86" height="15" fill="#0f0f0f"/><text x="1050.8" y="687.8" fill="#c6e088" stroke="#c6e088" stroke-width="0.4" font-size="13.1" text-anchor="end" font-family="Liberation Sans, sans-serif">2 V</text><rect x="1017.21" y="723.1" width="37.79" height="15" fill="#0f0f0f"/><text x="1050.8" y="734.6" fill="#c6e088" stroke="#c6e088" stroke-width="0.4" font-size="13.1" text-anchor="end" font-family="Liberation Sans, sans-serif">1.5 V</text><rect x="1028.14" y="769.9" width="26.86" height="15" fill="#0f0f0f"/><text x="1050.8" y="781.4" fill="#c6e088" stroke="#c6e088" stroke-width="0.4" font-size="13.1" text-anchor="end" font-family="Liberation Sans, sans-serif">1 V</text><rect x="1002.65" y="816.7" width="52.35" height="15" fill="#0f0f0f"/><text x="1050.8" y="828.2" fill="#c6e088" stroke="#c6e088" stroke-width="0.4" font-size="13.1" text-anchor="end" font-family="Liberation Sans, sans-serif">500 mV</text><rect x="1028.14" y="863.5" width="26.86" height="15" fill="#0f0f0f"/><text x="1050.8" y="875" fill="#c6e088" stroke="#c6e088" stroke-width="0.4" font-size="13.1" text-anchor="end" font-family="Liberation Sans, sans-serif">0 V</text><rect x="998.29" y="910.3" width="56.71" height="15" fill="#0f0f0f"/><text x="1050.8" y="921.8" fill="#c6e088" stroke="#c6e088" stroke-width="0.4" font-size="13.1" text-anchor="end" font-family="Liberation Sans, sans-serif">-500 mV</text><rect x="-26.08" y="922.6" width="49.36" height="16.4" fill="#0f0f0f"/><text x="-1.4" y="933.6" fill="#cacaca" stroke="#cacaca" stroke-width="0.35" font-size="13" text-anchor="middle" font-family="Liberation Sans, sans-serif">-100 ns</text><rect x="161.33" y="922.6" width="23.34" height="16.4" fill="#0f0f0f"/><text x="173" y="933.6" fill="#cacaca" stroke="#cacaca" stroke-width="0.35" font-size="13" text-anchor="middle" font-family="Liberation Sans, sans-serif">0 s</text><rect x="324.78" y="922.6" width="45.03" height="16.4" fill="#0f0f0f"/><text x="347.3" y="933.6" fill="#cacaca" stroke="#cacaca" stroke-width="0.35" font-size="13" text-anchor="middle" font-family="Liberation Sans, sans-serif">100 ns</text><rect x="499.88" y="922.6" width="45.03" height="16.4" fill="#0f0f0f"/><text x="522.4" y="933.6" fill="#cacaca" stroke="#cacaca" stroke-width="0.35" font-size="13" text-anchor="middle" font-family="Liberation Sans, sans-serif">200 ns</text><rect x="674.78" y="922.6" width="45.03" height="16.4" fill="#0f0f0f"/><text x="697.3" y="933.6" fill="#cacaca" stroke="#cacaca" stroke-width="0.35" font-size="13" text-anchor="middle" font-family="Liberation Sans, sans-serif">300 ns</text><rect x="848.68" y="922.6" width="45.03" height="16.4" fill="#0f0f0f"/><text x="871.2" y="933.6" fill="#cacaca" stroke="#cacaca" stroke-width="0.35" font-size="13" text-anchor="middle" font-family="Liberation Sans, sans-serif">400 ns</text>
<path d="M0 384.12L1.23 384.12L1.23 383.81L2.21 383.81L2.21 383.62L3.74 381.12L4.63 383.83L5.47 383.83L5.47 385.92L6.88 385.92L6.88 384.74L7.7 379.67L9.31 383.5L10.42 383.5L10.42 383.32L11.44 377.55L12.67 380.69L14.39 383.26L15.48 383.26L15.48 381.13L16.35 381.13L16.35 383.07L17.93 383.07L17.93 381.9L19.52 379.34L21.16 379.34L21.16 380.8L22.33 380.8L22.33 379.35L23.85 385.14L24.67 380.89L25.6 388.29L27.14 381.27L28.36 381.27L28.36 380.64L29.28 388.12L31 380.57L32.7 380.57L32.7 382.88L33.52 382.88L33.52 381.74L34.88 381.74L34.88 379.42L35.88 382.57L36.99 378.4L37.99 389.55L39.13 384.18L40.38 384.18L40.38 384.84L41.36 384.84L41.36 382.89L42.91 382.89L42.91 382.57L44.4 386.16L46.08 386.16L46.08 387.44L47.27 387.44L47.27 389.05L48.3 385.36L49.86 385.36L49.86 385.4L50.83 382L52.07 385.9L52.94 385.9L52.94 383.41L54.44 383.41L54.44 381.37L55.47 381.37L55.47 380.28L56.77 380.28L56.77 380.62L58.39 386.53L59.83 386.53L59.83 385.12L60.67 381.4L62.12 381.4L62.12 380.62L63.37 384.81L65.09 381.19L66.58 383.95L68.03 383.95L68.03 384.56L69.16 384.56L69.16 384.22L70.76 384.22L70.76 382.57L72.36 382.57L72.36 382.66L73.52 382.66L73.52 382.77L74.4 382.77L74.4 383.13L76.01 383.13L76.01 383.82L77.49 383.82L77.49 383.4L79.07 380.61L79.9 380.61L79.9 382.17L80.92 382.17L80.92 383.47L82.29 383.47L82.29 385.37L83.1 385.37L83.1 382.91L84.1 382.91L84.1 381.18L85.51 381.18L85.51 382.01L86.61 382.01L86.61 383.67L87.82 383.67L87.82 385.28L89.43 385.28L89.43 383.88L90.53 383.88L90.53 381.97L92.1 385.1L93.78 385.1L93.78 383.53L95 383.53L95 382.85L96.19 382.85L96.19 384.49L97.28 384.49L97.28 386.42L98.5 379.14L99.93 382.88L101.33 382.88L101.33 384.26L102.51 384.26L102.51 382.85L103.56 385.38L105.27 388.13L106.96 384.72L108.2 388.03L109.5 381.02L111.02 381.02L111.02 382.84L112.28 386.04L113.87 386.04L113.87 385.72L115.05 385.72L115.05 386.55L116.27 383.06L117.08 383.06L117.08 383.36L118.35 383.36L118.35 384.81L119.46 382.23L120.46 386.43L122.16 386.43L122.16 384.39L123.26 384.39L123.26 385.46L124.39 381.42L125.7 381.42L125.7 383.25L126.53 380.24L127.49 380.24L127.49 382.17L128.43 382.17L128.43 380.2L129.9 383.05L131.57 383.05L131.57 382.48L132.46 382.48L132.46 380.78L133.53 380.78L133.53 382.8L134.82 382.8L134.82 384.39L135.91 384.39L135.91 382.66L137.54 382.66L137.54 381.07L139.24 381.07L139.24 382.2L140.23 382.2L140.23 382.8L141.59 382.8L141.59 380.46L142.87 380.46L142.87 381.53L144.19 381.53L144.19 382.61L145.06 382.61L145.06 383.39L146.74 386.01L147.98 382.95L149.54 385.88L150.63 385.88L150.63 383.4L152.29 383.4L152.29 382.06L153.12 382.06L153.12 381.8L154.55 381.8L154.55 382.45L155.93 382.45L155.93 381.59L156.85 381.59L156.85 383.39L157.83 383.39L157.83 384.31L158.98 384.31L158.98 384.08L159.94 384.08L159.94 382.83L161.33 382.83L161.33 383.98L162.7 383.98L162.7 386.2L164.18 386.2L164.18 386.87L165.28 386.87L165.28 384.44L166.28 386.97L167.21 383.95L168.26 383.95L168.26 381.74L169.45 384.38L170.63 380.86L171.95 380.86L171.95 383.25L173.09 383.25L173.09 384.3L174.21 384.3L174.21 386.27L175.76 389.49L176.7 381.66L178.27 384.72L179.17 381.07L180.4 381.07L180.4 383.15L181.63 383.15L181.63 382.68L182.99 379.72L184.57 379.72L184.57 379.27L186.06 379.27L186.06 380.27L187.01 377.27L188.56 382.86L189.94 382.86L189.94 381.98L191.21 384.76L192.25 384.76L192.25 385.68L193.77 385.68L193.77 385.68L195.4 385.68L195.4 386.16L196.91 386.16L196.91 385.86L198.38 382.1L199.62 382.1L199.62 380.17L201.01 382.74L202.69 382.74L202.69 384.28L204.1 384.28L204.1 384.54L205.26 387.05L206.71 387.05L206.71 387L207.54 387L207.54 386.2L208.58 380.7L209.98 380.7L209.98 382.06L211.04 382.06L211.04 382.65L212.23 382.65L212.23 383.91L213.12 383.91L213.12 384.08L214.43 384.08L214.43 385.36L215.59 385.36L215.59 387.39L217.29 387.39L217.29 387.81L218.64 387.81L218.64 385.65L219.71 385.65L219.71 384.46L221 384.46L221 384.31L222.66 384.31L222.66 385.09L223.49 385.09L223.49 386.01L224.88 386.01L224.88 384.32L225.74 384.32L225.74 383.02L227.08 383.02L227.08 384.5L228.61 384.5L228.61 382.32L229.65 382.32L229.65 380.11L231.32 384.64L233.02 384.64L233.02 385.23L233.93 385.23L233.93 384.45L234.93 380.94L235.85 380.94L235.85 381.42L237.07 381.42L237.07 380.58L238.26 380.58L238.26 382.95L239.98 382.95L239.98 384.89L241.01 381.24L242.53 381.24L242.53 382.35L243.59 382.35L243.59 383.19L244.94 383.19L244.94 383.31L245.92 383.31L245.92 381.32L247.57 381.32L247.57 379.85L248.38 379.85L248.38 377.69L249.28 377.69L249.28 378.29L250.92 378.29L250.92 380.7L252.63 380.7L252.63 381.83L253.75 381.83L253.75 382.46L255.5 384L257.35 267.69L258.74 218.32L259.95 191.64L262.41 167.73L264.38 158.18L265.64 150.84L267.83 136.4L270.04 120.18L271.58 107.97L273.48 102.12L275.51 95.79L277.25 91.83L278.59 88.52L280.73 88.52L280.73 88.95L282.52 88.95L282.52 88.73L284.1 88.73L284.1 86.76L285.69 86.76L285.69 86.54L287.17 83.27L289.6 79.24L291.33 82.31L292.57 82.31L292.57 82.65L295.03 87.37L297.07 84.24L299.08 79.99L300.56 79.99L300.56 81.32L301.88 81.32L301.88 81.11L303.11 81.11L303.11 81.19L305 81.19L305 79.95L306.79 79.95L306.79 79.5L308.88 79.5L308.88 79.21L310.9 79.21L310.9 80.15L312.95 80.15L312.95 81.32L314.22 81.32L314.22 80.06L316.27 80.06L316.27 80.85L317.85 80.85L317.85 79.5L320.45 76.11L322.63 73.36L324.16 73.36L324.16 73.1L325.42 75.93L327.57 75.93L327.57 77.13L329.85 77.13L329.85 76.31L331.54 72.75L333.56 72.75L333.56 74.21L335.32 78.17L337.32 78.17L337.32 79.07L339.64 79.07L339.64 81.54L341.45 81.54L341.45 79.82L343.27 79.82L343.27 80.56L344.6 80.56L344.6 79.69L345.94 79.69L345.94 80.94L347.18 80.94L347.18 81.14L349.51 77.98L351.7 73.52L353.93 73.52L353.93 73.66L355.46 73.66L355.46 72.56L357.22 72.56L357.22 70.78L359.62 73.9L361.76 76.68L364.14 76.68L364.14 78.13L365.41 78.13L365.41 78.27L366.85 78.27L366.85 75.98L369.43 75.98L369.43 77.4L370.65 77.4L370.65 77.44L372.14 77.44L372.14 78.81L374.19 78.81L374.19 76.65L375.89 76.65L375.89 74.96L377.88 71.94L379.2 69.4L381.37 69.4L381.37 68.73L383.2 74.44L385.47 80.17L387.92 80.17L387.92 78.61L390.12 74.58L392.55 74.58L392.55 76.47L393.89 76.47L393.89 78.46L395.83 78.46L395.83 78.92L397.91 78.92L397.91 78.4L400.2 78.4L400.2 77.17L401.42 77.17L401.42 75.68L403.26 75.68L403.26 73.53L405 67.74L406.88 67.74L406.88 69.8L408.83 69.8L408.83 72.18L410.07 72.18L410.07 73.77L412.51 73.77L412.51 73.57L414.45 73.57L414.45 75.3L416.92 75.3L416.92 76.45L419.02 76.45L419.02 75.7L420.64 75.7L420.64 76.77L422.85 76.77L422.85 77.64L425.03 77.64L425.03 76.71L426.92 76.71L426.92 75.58L428.19 75.58L428.19 76.44L429.91 76.44L429.91 78.93L431.44 78.93L431.44 80.74L433.66 181.83L436.08 257.56L438.12 287.11L440.27 303.77L441.56 312.37L443.62 324.02L444.91 330.91L446.76 347.73L448 351.69L449.67 354.47L450.88 358.01L452.91 363.66L455.49 367.93L456.84 367.93L456.84 369.56L458.36 369.56L458.36 369.58L459.83 367.03L461.18 367.03L461.18 367.94L463.7 375.85L465.42 380.45L467.27 377.82L468.99 377.82L468.99 375.41L470.52 379.62L471.9 383.7L473 381.65L474.59 381.65L474.59 379.34L475.53 379.34L475.53 378.5L476.45 378.5L476.45 379.69L477.53 379.69L477.53 379.67L478.89 379.67L478.89 377.48L479.83 380.96L481.38 380.96L481.38 382.3L483.06 382.3L483.06 382.79L484.64 382.79L484.64 381.48L485.97 381.48L485.97 380.66L487.17 380.66L487.17 379.75L488.73 379.75L488.73 381.98L490.17 381.98L490.17 381.82L491.1 381.82L491.1 382.42L492.06 382.42L492.06 380.31L493.1 380.31L493.1 380.78L494.27 380.78L494.27 379.38L495.29 379.38L495.29 379.37L496.44 379.37L496.44 378.62L498.12 378.62L498.12 380.08L499.78 380.08L499.78 379.05L501.33 382.79L502.28 382.79L502.28 382.28L503.9 382.28L503.9 384.17L505.49 384.17L505.49 382.82L506.42 382.82L506.42 385.31L507.89 382.5L509.23 382.5L509.23 383.19L510.71 383.19L510.71 382.17L511.66 382.17L511.66 383.46L512.67 380.81L513.99 387.08L515.56 382.97L516.48 382.97L516.48 381.64L518.12 381.64L518.12 382.21L519.78 382.21L519.78 382.11L520.62 382.11L520.62 380.99L521.94 380.99L521.94 381.46L522.95 381.46L522.95 379.92L524.1 379.92L524.1 381.76L525.04 381.76L525.04 381.03L526.05 381.03L526.05 380.62L527.56 380.62L527.56 381.17L528.96 381.17L528.96 380.48L530.19 374.36L531.59 378.43L533.31 383.96L534.99 383.96L534.99 382.89L536.55 377.71L537.71 377.71L537.71 376.71L538.85 376.71L538.85 378.42L540.57 378.42L540.57 377.18L541.49 380.6L543.12 380.6L543.12 380.91L543.93 380.91L543.93 379.52L544.87 379.52L544.87 380.16L545.99 380.16L545.99 382.21L547.46 382.21L547.46 382.56L548.74 382.56L548.74 384.13L550.07 384.13L550.07 383.39L551.7 380.58L553 380.58L553 383.02L554.08 383.02L554.08 384.96L554.97 377.25L555.87 382.95L557.59 382.95L557.59 384.39L558.97 384.39L558.97 385.21L560.04 385.21L560.04 385.24L561.13 385.24L561.13 386.5L562.18 386.5L562.18 385.99L562.99 381.84L564.1 384.7L565.69 384.7L565.69 385.55L567.41 385.55L567.41 385.41L568.45 385.41L568.45 383.75L569.75 383.75L569.75 381.56L571 381.56L571 380.49L571.83 383.25L572.73 383.25L572.73 383.23L574.35 383.23L574.35 382.59L575.92 382.59L575.92 380.72L577.33 380.72L577.33 380.89L578.15 380.89L578.15 383.19L579.73 383.19L579.73 385.43L581.39 379.5L582.75 379.5L582.75 378.96L583.56 378.96L583.56 379.76L584.68 383.91L585.7 383.91L585.7 384.95L587.35 382.43L588.92 382.43L588.92 382.23L590.34 382.23L590.34 381.64L591.27 381.64L591.27 382.08L592.12 382.08L592.12 381.83L593.4 381.83L593.4 382.42L594.55 382.42L594.55 382.9L595.89 382.9L595.89 381.07L597.1 381.07L597.1 383.09L598.52 383.09L598.52 383.87L599.67 379.93L600.86 379.93L600.86 382.06L602.57 382.06L602.57 381.26L603.9 378.65L604.5 384L606.5 280.33L608.51 216.47L610.85 182.87L612.96 157.63L614.89 148.1L616.44 139.07L619.04 113.87L621.44 95.11L623.18 95.11L623.18 93.9L625.32 93.9L625.32 94.92L627.48 94.92L627.48 93.82L628.87 93.82L628.87 92.95L631.44 92.95L631.44 91.7L633.5 87.19L634.71 87.19L634.71 86.22L637.22 79.97L638.94 76.89L640.58 79.61L642.39 82.54L644.41 82.54L644.41 84.75L645.82 76.54L647.6 69.5L649.5 69.5L649.5 71.5L651.62 76.97L654.02 76.97L654.02 76.53L656.01 76.53L656.01 78.64L658.05 78.64L658.05 79.12L660.34 79.12L660.34 79.02L661.77 79.02L661.77 78.76L664.3 78.76L664.3 77.88L666.08 77.88L666.08 76.01L667.66 72.51L669.11 72.51L669.11 71.75L670.95 71.75L670.95 71.78L673.06 71.78L673.06 72.88L675.35 72.88L675.35 71.42L677.03 71.42L677.03 72.31L678.24 72.31L678.24 72.78L679.9 72.78L679.9 75.21L681.22 75.21L681.22 77.3L683.23 77.3L683.23 76.64L685.65 80.52L687.19 80.52L687.19 79.94L689.66 79.94L689.66 81.25L691.7 78.1L693.59 78.1L693.59 75.94L695.35 75.94L695.35 74.16L697.37 74.16L697.37 75.9L699.26 75.9L699.26 73.85L701.07 73.85L701.07 74.22L702.86 74.22L702.86 73.3L704.06 73.3L704.06 74.81L705.33 74.81L705.33 73.76L706.68 73.76L706.68 75.6L709.27 75.6L709.27 75.14L711.11 75.14L711.11 75.35L713.02 75.35L713.02 75.65L715.23 75.65L715.23 74.48L717.41 74.48L717.41 72.12L719.52 72.12L719.52 72.36L720.93 72.36L720.93 72.52L723 72.52L723 71.47L725.1 71.47L725.1 70.02L727.46 70.02L727.46 71.24L729.79 71.24L729.79 73.62L731.6 73.62L731.6 75.22L733.81 75.22L733.81 75.76L735.07 75.76L735.07 77.79L737.35 77.79L737.35 80.27L739.92 80.27L739.92 79.15L742.06 79.15L742.06 77.12L744.09 77.12L744.09 77.66L745.56 73.69L746.87 73.69L746.87 73.44L748.36 73.44L748.36 72.71L750.96 72.71L750.96 71.32L752.81 71.32L752.81 69L754.98 69L754.98 69.3L756.78 69.3L756.78 71.21L758.75 71.21L758.75 72.17L760.46 72.17L760.46 72.78L762.54 76.99L764.6 76.99L764.6 77.97L767.02 80.63L768.31 80.63L768.31 79.44L769.64 79.44L769.64 79.73L771.2 79.73L771.2 78.87L773.46 75.38L775.05 75.38L775.05 75.6L776.96 75.6L776.96 73.65L778.53 73.65L778.53 71.38L780.21 71.38L780.21 71.67L782.09 71.67L782.09 71.2L783.95 71.2L783.95 72.13L786.12 75.1L788.44 75.1L788.44 75.95L790.75 75.95L790.75 76.75L793.34 76.75L793.34 77.67L794.63 77.67L794.63 78.93L797 78.93L797 76.79L798.66 76.79L798.66 76.51L800.9 76.51L800.9 74.15L802.49 71.05L803.93 71.05L803.93 70.44L806.24 70.44L806.24 71.74L807.75 71.74L807.75 72.51L810.28 72.51L810.28 73.28L812.28 73.28L812.28 74.02L814.84 74.02L814.84 76.15L816.06 76.15L816.06 76.89L818.45 80.48L820.38 80.48L820.38 81.68L822.65 77.47L824.31 77.47L824.31 75.26L826.48 75.26L826.48 74.4L828.47 74.4L828.47 73.64L830.23 73.64L830.23 72.2L831.67 72.2L831.67 71.69L833.72 71.69L833.72 70.64L836.32 70.64L836.32 71.91L838.8 74.52L840.49 74.52L840.49 75.76L842.5 75.76L842.5 74.99L843.91 74.99L843.91 77.16L846.1 77.16L846.1 76.63L848.31 76.63L848.31 76.41L849.75 76.41L849.75 75.89L852.1 72.1L854.09 72.1L854.09 70.62L855.56 70.62L855.56 69.06L856.97 69.06L856.97 70.28L858.43 70.28L858.43 71L860.43 71L860.43 72.25L862.74 72.25L862.74 72.91L864.47 72.91L864.47 73.3L865.74 73.3L865.74 75.61L868.27 78.21L869.72 78.21L869.72 80.55L871.42 77.24L873.95 77.24L873.95 76.01L875.99 76.01L875.99 75.1L877.67 75.1L877.67 75.44L879.1 75.44L879.1 74.4L881.35 71.53L883.64 71.53L883.64 70.99L885.08 70.99L885.08 73.48L887.1 73.48L887.1 73.63L889.02 73.63L889.02 73.99L890.76 73.99L890.76 73.19L893.31 73.19L893.31 75.19L894.66 75.19L894.66 75.98L896.29 75.98L896.29 77.4L898.4 77.4L898.4 77.35L900.09 77.35L900.09 76.21L902.15 76.21L902.15 75.9L904.1 75.9L904.1 74.13L905.52 74.13L905.52 73.1L907.69 70.12L909.78 70.12L909.78 71.17L911.79 71.17L911.79 72.52L913.3 72.52L913.3 73.59L915.85 73.59L915.85 73.12L918.26 73.12L918.26 75.39L919.56 75.39L919.56 77.78L920.79 77.78L920.79 77.84L922.46 77.84L922.46 78.08L924.68 78.08L924.68 77.24L926.76 77.24L926.76 77.78L928.2 77.78L928.2 76.55L929.8 76.55L929.8 76.62L931.35 73.86L933.41 73.86L933.41 72.03L935.19 72.03L935.19 72.33L936.44 72.33L936.44 71.38L937.67 71.38L937.67 70.62L939.95 70.62L939.95 69.69L941.33 69.69L941.33 69.96L942.55 69.96L942.55 68.84L944.68 68.84L944.68 71.14L947.14 71.14L947.14 72.94L948.41 72.94L948.41 74.7L950.25 74.7L950.25 74.2L951.5 76.7L953.39 76.7L953.39 79.09L955.1 95.05L956.67 141.07L958.51 206.23L959.82 240.31L961.22 260.57L962.59 277.08L964.92 294.5L966.92 306.18L969.18 322.94L971.09 344.89L973.18 349.11L975.29 357.01L976.79 360.6L978.95 369.67L981.35 369.67L981.35 371.53L983.49 367.3L985.11 367.3L985.11 367.53L986.56 371.87L987.8 371.87L987.8 373.55L989.63 376.59L991.98 372.1L993.66 372.1L993.66 370.4L995.07 374.69L996.82 380.44L998.4 380.44L998.4 382.53L1000.33 377.48L1002.32 377.48L1002.32 379.64L1004.3 379.64L1004.3 380.03L1006.4 385.1L1008.91 379.97L1010.75 379.97L1010.75 377.55L1013.31 380.27L1015.04 380.27L1015.04 381.8L1017.34 377.47L1019.55 377.47L1019.55 376.59L1022.14 379.17L1023.95 379.17L1023.95 379.22L1026.32 382.27L1028.53 382.27L1028.53 381.74L1029.82 381.74L1029.82 382.98L1031.66 382.98L1031.66 384.41L1033.91 384.41L1033.91 386.9L1035.67 384.06L1037.14 381.28L1038.68 381.28L1038.68 380.92L1040.41 380.92L1040.41 381.61L1042.45 377.75L1044.8 383.78L1047.34 383.78L1047.34 382.04L1049.29 379.17L1051.69 382.62L1053.07 382.62L1053.07 383.75L1054.91 383.75L1054.91 381.46L1055.3 381.46L1055.3 380.01" fill="none" stroke="#72f0e2" stroke-width="1.4" stroke-linejoin="round"/>
<path d="M0 869.36L2.07 869.36L2.07 869.61L4.39 869.61L4.39 869.81L6.62 869.81L6.62 872.2L7.86 872.2L7.86 871.74L10.38 871.74L10.38 872.16L12.84 872.16L12.84 871.62L14.7 871.62L14.7 870.18L16.66 870.18L16.66 870.51L17.88 870.51L17.88 871.37L19.47 871.37L19.47 872.07L21.74 872.07L21.74 871.32L24.06 871.32L24.06 869.72L26.12 869.72L26.12 871.82L27.33 871.82L27.33 872.56L28.82 872.56L28.82 871.91L31.39 871.91L31.39 872L33 872L33 872.09L34.95 872.09L34.95 871.87L36.44 871.87L36.44 872.13L38.61 872.13L38.61 872.16L41.06 872.16L41.06 873.32L42.77 873.32L42.77 873.19L44.17 873.19L44.17 873.09L45.79 869.1L47 869.1L47 869.17L48.67 871.68L51.01 871.68L51.01 871.86L52.66 871.86L52.66 870.36L54.84 870.36L54.84 869.94L57.41 869.94L57.41 869.9L59.66 869.9L59.66 869.57L60.88 872.6L62.6 872.6L62.6 872.39L63.81 872.39L63.81 871.86L65.26 871.86L65.26 872.77L66.74 872.77L66.74 872.32L69.24 872.32L69.24 872.51L70.92 869.55L72.86 869.55L72.86 869.97L74.21 869.97L74.21 869.95L76.52 869.95L76.52 869.36L77.77 869.36L77.77 869.45L79.1 869.45L79.1 868.84L81.16 868.84L81.16 869.42L82.83 874.23L84.8 874.23L84.8 873.61L86.44 873.61L86.44 874.31L87.75 874.31L87.75 874.28L89.91 870.79L91.34 870.79L91.34 869.84L93.92 869.84L93.92 872.03L95.69 872.03L95.69 871.73L97.72 871.73L97.72 872.52L99.56 872.52L99.56 872.12L100.84 872.12L100.84 872.46L102.08 872.46L102.08 872.04L104.46 872.04L104.46 871.68L106.68 871.68L106.68 870.62L108.76 870.62L108.76 872.17L110.11 872.17L110.11 871.81L111.52 871.81L111.52 872.22L113.13 872.22L113.13 873.41L115.73 873.41L115.73 872.57L118.3 872.57L118.3 872.18L120.18 872.18L120.18 872.37L122.05 872.37L122.05 871.93L123.82 871.93L123.82 871.79L125.55 871.79L125.55 872.41L128.09 872.41L128.09 872.05L129.99 872.05L129.99 871.91L131.32 871.91L131.32 871.84L133.61 871.84L133.61 872.44L135.32 872.44L135.32 872.36L137.6 872.36L137.6 872.1L139.73 872.1L139.73 871.99L141.44 871.99L141.44 872.42L143.03 872.42L143.03 872.2L145.31 872.2L145.31 871.83L146.92 871.83L146.92 872.09L149.03 872.09L149.03 869.87L150.25 869.87L150.25 869.83L151.8 869.83L151.8 870.08L153.65 870.08L153.65 870.23L155.75 870.23L155.75 870.21L157.44 870.21L157.44 872.34L159.67 872.34L159.67 872.52L161.36 869.29L163.78 869.29L163.78 871.14L166.35 829.36L168.27 796.37L169.71 777.53L172.22 764.6L174.39 752.36L176.61 734.45L178.9 717.88L181.03 704.93L183.11 692.54L185.2 683.43L186.44 683.43L186.44 681.33L188.25 677.41L189.76 672.18L191.84 664.4L193.7 658.38L194.98 654.04L196.62 649.2L198.09 649.2L198.09 646.84L199.95 646.84L199.95 644.36L202 639L203.54 635.17L204.74 631.42L206.33 627.12L207.69 623.86L209.41 620.92L211.47 620.92L211.47 620.54L213.43 620.54L213.43 618.54L215.45 616L217.79 611.23L220.13 611.23L220.13 610.22L221.85 610.22L221.85 609.42L223.88 609.42L223.88 608.55L226.42 608.55L226.42 606.85L228.47 606.85L228.47 604.45L230.92 601.49L232.28 601.49L232.28 599.97L234.34 599.97L234.34 598.74L236.42 598.74L236.42 599.49L238.14 599.49L238.14 599.03L239.66 599.03L239.66 598.89L242.22 598.89L242.22 598.98L244.77 598.98L244.77 596.89L246.8 596.89L246.8 595.58L249.38 595.58L249.38 595.2L251.16 595.2L251.16 595.02L253.74 595.02L253.74 594.14L255.34 594.14L255.34 593.13L256.71 593.13L256.71 591.65L258.53 591.65L258.53 589.33L260.82 589.33L260.82 587.86L262.04 587.86L262.04 586.69L263.62 586.69L263.62 587.46L265.92 591.23L267.49 591.23L267.49 591.76L270.08 591.76L270.08 593.93L272.13 593.93L272.13 593.38L274.23 593.38L274.23 591.12L276.47 591.12L276.47 593.34L278.74 593.34L278.74 593.46L280.68 590.64L282.3 590.64L282.3 588.58L284.15 588.58L284.15 586.91L286.39 589.57L287.64 589.57L287.64 590.82L289.48 590.82L289.48 591.09L291.93 591.09L291.93 590.09L293.15 590.09L293.15 591.33L294.94 591.33L294.94 592.55L297.14 592.55L297.14 591.51L299.01 591.51L299.01 590.93L300.75 590.93L300.75 590.72L303.14 590.72L303.14 590.9L304.76 590.9L304.76 591.53L306.05 591.53L306.05 591.54L308.22 585.94L309.82 585.94L309.82 588.03L312.3 628.54L314.17 662.55L316.06 688.04L317.48 694.8L319.82 705.95L321.34 718.17L323.65 735.41L324.88 743.14L327.45 758.88L329.63 769.31L332.01 774.17L334.12 782.63L336.31 792.1L337.92 800.43L339.33 804.25L341.11 808.25L343.18 813.31L344.54 817.02L345.84 819.84L347.84 825.04L350.27 829.9L352.08 834.14L354.12 837.01L356.63 837.01L356.63 839.41L357.91 839.41L357.91 841.01L359.32 841.01L359.32 842.68L361.23 845.35L363.21 845.35L363.21 847.53L364.77 847.53L364.77 849.42L366.33 849.42L366.33 850.6L368.25 850.6L368.25 850.76L369.78 850.76L369.78 851.6L372.01 851.6L372.01 852.3L374.21 852.3L374.21 853.67L375.53 853.67L375.53 855.44L376.86 855.44L376.86 856.67L378.89 859.49L381.32 859.49L381.32 861.58L382.97 861.58L382.97 862.77L384.21 862.77L384.21 862.52L385.49 862.52L385.49 861.31L388.02 861.31L388.02 861.45L389.53 861.45L389.53 861.22L392.09 861.22L392.09 862.33L394.44 865.33L396.52 865.33L396.52 865.16L398.05 865.16L398.05 864.85L400.11 864.85L400.11 867.03L401.85 867.03L401.85 867.94L404.21 867.94L404.21 868.45L406.54 868.45L406.54 868.23L408.93 868.23L408.93 868.32L410.96 868.32L410.96 868.37L413.19 871.82L414.53 871.82L414.53 870.43L416.01 870.43L416.01 869.33L418.46 869.33L418.46 868.28L420.72 868.28L420.72 867.8L422.58 870.39L424.65 870.39L424.65 869.93L426.5 869.93L426.5 869.6L427.92 869.6L427.92 869.66L429.64 869.66L429.64 869.89L432.07 869.89L432.07 871.15L433.63 866.34L435.06 866.34L435.06 865.93L436.58 873.31L437.83 879.07L439.55 875.5L441.71 871.79L443.57 871.79L443.57 871.97L444.93 867.65L446.54 867.65L446.54 867.46L448.76 871.16L450.24 871.16L450.24 871.94L451.77 868.75L453.53 868.75L453.53 869.13L455.24 869.13L455.24 869.63L457.09 846.46L459.32 808.84L460.75 783.93L462.89 767.03L464.99 750.07L467.56 730.78L468.84 722.11L470.62 709.98L472.59 700.43L474.51 689.52L475.84 683.64L478.3 676.68L480.81 668.72L482.35 664.09L484.11 659.4L485.67 655.6L487.3 650.9L488.55 650.9L488.55 648.48L490 644.14L491.76 639.47L493.08 635.73L494.43 633.02L496.92 627.79L499.32 620.81L500.55 620.81L500.55 619.79L502.43 619.79L502.43 618.73L504.15 618.73L504.15 621.13L506.37 615.32L508 615.32L508 613.71L510.36 613.71L510.36 611.96L511.72 611.96L511.72 611.19L513.04 611.19L513.04 610.81L515.39 607.65L516.77 607.65L516.77 605.82L518.31 605.82L518.31 605.29L520.11 605.29L520.11 605.2L521.66 602.2L523.84 598.71L525.32 598.71L525.32 597.47L527.04 597.47L527.04 595.79L528.83 595.79L528.83 595.14L531.08 595.14L531.08 597.56L533.54 597.56L533.54 599.58L535.8 599.58L535.8 599.28L537.62 599.28L537.62 599.34L539.74 595.44L541.96 595.44L541.96 593.98L543.53 593.98L543.53 594.49L545.27 594.49L545.27 594.26L546.56 594.26L546.56 594.63L548.13 594.63L548.13 594.65L549.73 594.65L549.73 592.18L552 592.18L552 590.76L553.23 590.76L553.23 589.94L554.62 589.94L554.62 590.89L557.02 590.89L557.02 592.61L559.08 592.61L559.08 592.01L560.88 592.01L560.88 592.25L562.54 592.25L562.54 592.01L564.56 592.01L564.56 592.94L566.78 592.94L566.78 592.3L568.72 592.3L568.72 592.37L570.91 592.37L570.91 592.53L573.43 592.53L573.43 590.37L574.79 590.37L574.79 588.9L577.27 588.9L577.27 589.69L579.08 589.69L579.08 589.79L581.35 589.79L581.35 590.45L583.3 590.45L583.3 590.62L585.33 590.62L585.33 589.89L587.67 589.89L587.67 587.82L588.95 587.82L588.95 589.3L590.19 589.3L590.19 590.07L592.07 590.07L592.07 591.88L593.82 591.88L593.82 591.22L595.41 591.22L595.41 591.2L597.39 591.2L597.39 590.76L599.65 587.77L601.34 590.64L603.91 634.47L606.3 664.32L608.06 688.14L610.43 701.3L611.68 705.99L613.02 715.16L615.48 732.96L617.8 754.44L619.95 770.37L622.02 778.37L623.75 781.06L625.67 785.51L627.13 788.97L628.77 793.54L630.41 798.8L632.27 804.72L634.03 810.06L636.37 815.86L638.54 821.03L640.5 826.04L642.2 830.27L644.35 835.83L645.95 839.57L647.27 839.57L647.27 841.41L649.29 841.41L649.29 843.15L651.49 843.15L651.49 844.17L653.99 844.17L653.99 845.99L656.19 845.99L656.19 847.44L658.45 847.44L658.45 849.73L660.99 852.87L663.15 855.48L665.38 858L666.87 858L666.87 859.42L669.33 859.42L669.33 860.99L671.89 860.99L671.89 863.21L673.64 863.21L673.64 863.8L675.39 863.8L675.39 863.98L677.5 863.98L677.5 864.7L679.98 864.7L679.98 864.41L681.72 864.41L681.72 863.91L683.88 863.91L683.88 864.35L686.09 864.35L686.09 864.21L688.53 864.21L688.53 865.02L690.16 865.02L690.16 865.73L692.23 865.73L692.23 867.19L693.66 867.19L693.66 867.5L695.93 867.5L695.93 867.95L697.22 867.95L697.22 868.74L699.58 868.74L699.58 869.87L701.8 869.87L701.8 870.18L703.6 870.18L703.6 869.73L706.07 869.73L706.07 868.27L707.66 868.27L707.66 867.78L710.21 867.78L710.21 866.72L711.45 866.72L711.45 867L713.44 867L713.44 868.06L714.9 868.06L714.9 868.06L716.93 868.06L716.93 869.1L719.1 869.1L719.1 869.8L720.38 869.8L720.38 869.92L722.75 869.92L722.75 871.04L724.4 871.04L724.4 871.34L726.5 871.34L726.5 871.93L728.02 871.93L728.02 872.07L730.4 872.07L730.4 872.43L731.74 872.43L731.74 871.92L733.16 871.92L733.16 871.11L734.57 871.11L734.57 870.93L735.92 870.93L735.92 870.4L738.15 870.4L738.15 869.34L740.48 869.34L740.48 869.6L742.97 869.6L742.97 870.26L745.04 870.26L745.04 870.62L746.39 870.62L746.39 869.98L747.68 841.26L749.4 810.21L751.56 781.85L752.87 772.29L754.83 758.53L756.2 749.16L757.92 737.13L759.82 724.15L762.34 707.07L764.6 696.41L766.22 687.73L768.09 681.61L770.32 677.15L772.06 672.62L773.95 668.75L776.26 660.87L777.87 655.07L780.26 649.68L781.53 646.62L783.06 643.29L784.37 639.27L785.7 635.69L788.28 628.45L790.02 624.03L791.35 620.88L793.68 620.88L793.68 618.5L795.96 618.5L795.96 616.89L797.18 616.89L797.18 615.72L799.02 615.72L799.02 614.4L800.94 614.4L800.94 612.6L802.45 612.6L802.45 612.79L804.27 612.79L804.27 611.43L805.59 611.43L805.59 609.4L808.13 606.32L810.04 606.32L810.04 604.73L811.79 604.73L811.79 604.59L813.59 604.59L813.59 603.5L816.06 600.52L818.15 596.56L819.38 596.56L819.38 597.49L821.16 597.49L821.16 597.88L823.52 597.88L823.52 598.73L825.25 598.73L825.25 599.2L827.5 599.2L827.5 597.21L828.91 597.21L828.91 596.87L830.7 596.87L830.7 596.76L833.3 596.76L833.3 595.58L835.09 595.58L835.09 595.53L836.94 595.53L836.94 597.12L839.08 597.12L839.08 594.78L840.51 594.78L840.51 593.43L841.82 593.43L841.82 593.03L844.27 593.03L844.27 592.92L845.75 592.92L845.75 591.68L848.11 591.68L848.11 591.28L850.15 591.28L850.15 590.32L851.68 590.32L851.68 591.28L854.19 591.28L854.19 590.67L855.65 590.67L855.65 591.23L857.22 591.23L857.22 591.73L858.94 591.73L858.94 591.94L860.36 591.94L860.36 591.84L862.92 591.84L862.92 592.31L864.25 592.31L864.25 591.04L866.35 591.04L866.35 589.59L868.06 589.59L868.06 589.55L870.08 589.55L870.08 589.87L871.62 589.87L871.62 589.34L873.18 589.34L873.18 589.18L875.41 589.18L875.41 588.58L877.28 588.58L877.28 589L878.49 589L878.49 588.96L880.28 588.96L880.28 588.54L882.33 588.54L882.33 590.14L883.61 590.14L883.61 590.9L884.87 590.9L884.87 591.82L886.55 591.82L886.55 593L888.17 593L888.17 595.11L890.28 590.96L892 590.96L892 589.9L894.2 607.15L896.73 665.73L898.35 682.4L900.86 697.65L902.69 709.52L904.63 720.85L907.12 735.73L909.09 749.5L910.49 760.2L912.38 773.58L913.87 777.44L915.15 780.5L916.83 785.03L919.39 793.28L920.97 799.09L923.21 805.69L925.57 811.95L927.31 816.32L928.86 819.81L931.29 826.27L933.74 832.56L935.13 836.14L937.37 839.82L938.58 839.82L938.58 840.82L940.94 844.22L943.36 844.22L943.36 846.29L945.38 846.29L945.38 847.59L947.59 847.59L947.59 849.41L949.65 849.41L949.65 850.25L952.18 850.25L952.18 851.74L953.47 851.74L953.47 853.26L954.8 853.26L954.8 853.62L956.64 853.62L956.64 855.56L959.09 858.24L960.39 862.74L962.77 868.59L965.02 864.21L966.64 864.21L966.64 861.84L968.9 861.84L968.9 861.79L971.37 861.79L971.37 861.12L972.78 861.12L972.78 860.52L974.35 860.52L974.35 861.92L975.84 861.92L975.84 862.05L977.53 862.05L977.53 863.17L979.33 863.17L979.33 864.91L981.44 864.91L981.44 865.87L982.83 865.87L982.83 867.11L985 867.11L985 868.01L987 868.01L987 868.81L988.4 868.81L988.4 868.4L990.29 868.4L990.29 868.99L992.75 868.99L992.75 869.41L994.88 869.41L994.88 869.59L997.18 869.59L997.18 869.24L998.79 869.24L998.79 867.98L1000.35 867.98L1000.35 867.71L1002.8 867.71L1002.8 866.8L1004.88 866.8L1004.88 866.48L1007.42 866.48L1007.42 867.36L1009.7 867.36L1009.7 869.63L1011.04 869.63L1011.04 871.14L1013.42 871.14L1013.42 872.41L1014.69 872.41L1014.69 872.26L1016.43 872.26L1016.43 871.17L1018.64 871.17L1018.64 869.84L1020.42 869.84L1020.42 869.54L1021.75 869.54L1021.75 869.94L1023.95 869.94L1023.95 871.39L1026.37 871.39L1026.37 871.98L1027.99 871.98L1027.99 871.73L1030.51 871.73L1030.51 871.78L1032.97 871.78L1032.97 871.46L1034.31 871.46L1034.31 871.4L1035.83 871.4L1035.83 870.74L1037.82 870.74L1037.82 870.32L1039.17 856.05L1041.68 793.54L1043.53 771.56L1045.81 751.45L1047.76 737.68L1050.34 729.37L1052.15 722.94L1054.13 714.11L1055.93 704.09L1056 704.09L1056 704.42" fill="none" stroke="#e0f2a4" stroke-width="1.35" stroke-linejoin="miter"/>
<rect x="254.5" y="473" width="3.2" height="466" fill="#ffffff"/>
<rect x="615.8" y="473" width="3.2" height="466" fill="#ffffff"/>
<line x1="258" y1="520.7" x2="610" y2="520.7" stroke="#c8303c" stroke-width="1.6" stroke-dasharray="15.2 5.16" stroke-dashoffset="9.76"/>
<path d="M162.3 1.6 L183.6 1.6 L173.4 12 Z" fill="#f6a824" stroke="#1a0d00" stroke-width="0.8"/>
<path d="M1015.3 9 L1049 9 L1049 42.9 Z" fill="#7a7a7a"/>
<circle cx="1042" cy="15.6" r="4.3" fill="none" stroke="#dcdcdc" stroke-width="1.6"/>
<line x1="1039" y1="19" x2="1032.6" y2="24.8" stroke="#dcdcdc" stroke-width="2.4" stroke-linecap="round"/>
<path d="M1035.3 176.1 L1046.8 166.5 L1046.8 185.7 Z" fill="#34f2ec" stroke="#34f2ec" stroke-width="0.8" stroke-linejoin="round"/><rect x="1046" y="174.6" width="10" height="3" fill="#34f2ec"/>
<path d="M1035.3 338.9 L1046.8 329.3 L1046.8 348.5 Z" fill="#34f2ec" stroke="#34f2ec" stroke-width="0.8" stroke-linejoin="round"/><rect x="1046" y="337.4" width="10" height="3" fill="#34f2ec"/>
<path d="M1000.3 758.5 L1012.3 748.6 L1012.3 768.2 Z" fill="#cff45e" stroke="#cff45e" stroke-width="0.6" stroke-linejoin="round"/><rect x="1011" y="756.9" width="10.5" height="3.3" fill="#cff45e"/>
<path d="M164 472.8 H182.2 V491.8 H177.2 L173.3 498.8 L169.4 491.8 H164 Z" fill="#0a0a0a" stroke="#f2a93a" stroke-width="2" stroke-linejoin="miter"/>
<text x="173.4" y="486.8" fill="#f7b45a" font-size="14" font-weight="bold" text-anchor="middle" font-family="Liberation Sans, sans-serif">B</text>
<rect x="144.3" y="500" width="109.5" height="39.6" rx="4" fill="rgba(80,80,80,0.93)"/>
<rect x="284.4" y="500" width="302" height="44" rx="4" fill="rgba(80,80,80,0.93)"/>
<rect x="615.6" y="500" width="111.4" height="39.8" rx="4" fill="rgba(80,80,80,0.93)"/>
<text x="148.4" y="515.8" fill="#f6f6f6" stroke="#f6f6f6" stroke-width="0.45" font-size="15" font-family="Liberation Sans, sans-serif" xml:space="preserve">t: 46.533 ns</text>
<text x="148.4" y="531.7" fill="#f6f6f6" stroke="#f6f6f6" stroke-width="0.45" font-size="15" font-family="Liberation Sans, sans-serif" xml:space="preserve">v: 2.960 V</text>
<text x="288.6" y="517.9" fill="#f6f6f6" stroke="#f6f6f6" stroke-width="0.45" font-size="15" font-family="Liberation Sans, sans-serif" xml:space="preserve">Δt: 206.979 ns</text>
<text x="288.6" y="536" fill="#f6f6f6" stroke="#f6f6f6" stroke-width="0.45" font-size="15" font-family="Liberation Sans, sans-serif" xml:space="preserve">Δv: 1.602 V</text>
<text x="448.9" y="517.9" fill="#f6f6f6" stroke="#f6f6f6" stroke-width="0.45" font-size="15" font-family="Liberation Sans, sans-serif" xml:space="preserve">1/Δt:  4.83 MHz</text>
<text x="448.6" y="536" fill="#f6f6f6" stroke="#f6f6f6" stroke-width="0.45" font-size="15" font-family="Liberation Sans, sans-serif" xml:space="preserve">Δv/Δt:  129.18 nV/s</text>
<text x="620" y="515.8" fill="#f6f6f6" stroke="#f6f6f6" stroke-width="0.45" font-size="15" font-family="Liberation Sans, sans-serif" xml:space="preserve">t: 253.513 ns</text>
<text x="620" y="531.7" fill="#f6f6f6" stroke="#f6f6f6" stroke-width="0.45" font-size="15" font-family="Liberation Sans, sans-serif" xml:space="preserve">v: 1.357 V</text>
<rect x="615.8" y="473" width="3.2" height="27" fill="#ffffff"/>
<rect x="252" y="475.6" width="27.5" height="20" rx="3.5" fill="#3a3736"/>
<rect x="592.8" y="475.6" width="27" height="20" rx="3.5" fill="#3a3736"/>
<rect x="232.3" y="476" width="25.2" height="19.5" rx="3.5" fill="#a2e648"/><text x="245.1" y="490.2" fill="#16260a" stroke="#16260a" stroke-width="0.45" font-size="14" text-anchor="middle" font-family="Liberation Sans, sans-serif">C4</text>
<rect x="616.4" y="476" width="25.2" height="19.5" rx="3.5" fill="#a2e648"/><text x="629.2" y="490.2" fill="#16260a" stroke="#16260a" stroke-width="0.45" font-size="14" text-anchor="middle" font-family="Liberation Sans, sans-serif">C4</text>
<circle cx="268.4" cy="485.6" r="8.7" fill="#3ba0ec"/><text x="268.4" y="490.3" fill="#e4fcff" stroke="#e4fcff" stroke-width="0.45" font-size="13.2" text-anchor="middle" font-family="Liberation Sans, sans-serif">A</text>
<circle cx="603.5" cy="485.6" r="8.7" fill="#3ba0ec"/><text x="603.5" y="490.3" fill="#e4fcff" stroke="#e4fcff" stroke-width="0.45" font-size="13.2" text-anchor="middle" font-family="Liberation Sans, sans-serif">B</text>
<circle cx="255.8" cy="593.6" r="4.1" fill="none" stroke="#dadada" stroke-width="1.7"/><line x1="250.4" y1="588.2" x2="247.2" y2="585" stroke="#dadada" stroke-width="2.2"/><line x1="261.2" y1="588.2" x2="264.4" y2="585" stroke="#dadada" stroke-width="2.2"/><line x1="250.4" y1="599" x2="247.2" y2="602.2" stroke="#dadada" stroke-width="2.2"/><line x1="261.2" y1="599" x2="264.4" y2="602.2" stroke="#dadada" stroke-width="2.2"/>
<circle cx="617.2" cy="743.9" r="4.1" fill="none" stroke="#dadada" stroke-width="1.7"/><line x1="611.8" y1="738.5" x2="608.6" y2="735.3" stroke="#dadada" stroke-width="2.2"/><line x1="622.6" y1="738.5" x2="625.8" y2="735.3" stroke="#dadada" stroke-width="2.2"/><line x1="611.8" y1="749.3" x2="608.6" y2="752.5" stroke="#dadada" stroke-width="2.2"/><line x1="622.6" y1="749.3" x2="625.8" y2="752.5" stroke="#dadada" stroke-width="2.2"/>
</svg>
</body></html>
